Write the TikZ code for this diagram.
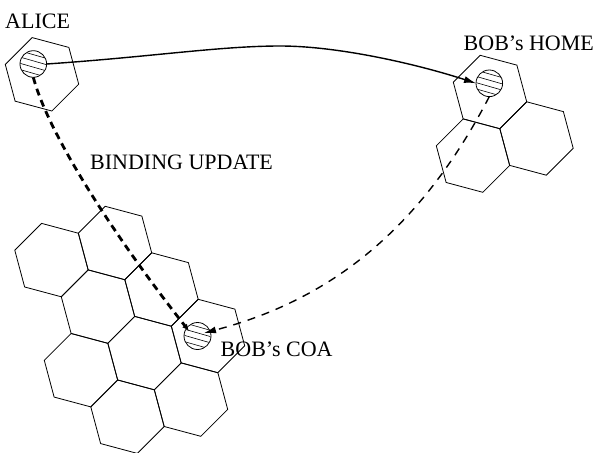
\documentclass[tikz,border=0pt]{standalone}
\usepackage{fontspec}
\setmainfont{Liberation Serif}
\usetikzlibrary{arrows.meta,calc}
\newcommand\hexcell[2]{\draw[hexline] (#1,#2) +(45:38pt) -- +(105:38pt) -- +(165:38pt) -- +(225:38pt) -- +(285:38pt) -- +(345:38pt) -- cycle;}
\begin{document}
\begin{tikzpicture}[x=1pt,y=-1pt,
  hexline/.style={line width=0.8pt},
  terminal/.style={circle, draw, line width=0.8pt, minimum size=26.6pt, inner sep=0pt, outer sep=0pt},
  hatchline/.style={line width=0.6pt},
  lbl/.style={anchor=base west, inner sep=0pt, font=\fontsize{22}{26}\selectfont},
  msg/.style={line width=1.4pt, -{Latex[length=12pt,width=7pt]}},
  bind/.style={line width=2.8pt, dash pattern=on 7pt off 5pt, -{Latex[length=7pt,width=6pt]}},
  fwd/.style={line width=1.4pt, dash pattern=on 8pt off 7pt, -{Latex[length=12pt,width=7pt]}},
]
\useasboundingbox (0,0) rectangle (596,452);
% Alice cell
\hexcell{42}{74.3}
% Bob's home cells
\hexcell{490}{92}
\hexcell{536.5}{138.5}
\hexcell{473}{155.6}
% foreign network cells
\hexcell{51.5}{260.1}
\hexcell{115}{243}
\hexcell{161.5}{289.5}
\hexcell{208}{336}
\hexcell{98}{306.6}
\hexcell{144.5}{353.1}
\hexcell{81}{370.2}
\hexcell{191}{399.6}
\hexcell{127.5}{416.7}
% terminals
\node[terminal] (alice) at (33.3,64) {};
\node[terminal] (bobhome) at (489.3,83.3) {};
\node[terminal, minimum size=27pt] (bobcoa) at (197.5,336) {};
\foreach \n in {alice,bobhome,bobcoa} {
  \begin{scope}
    \clip (\n.center) circle[radius=13pt];
    \foreach \d in {-9,-3,3,9}
      \draw[hatchline, rotate around={-16:(\n.center)}] ([yshift=\d pt,xshift=-20pt]\n.center) -- ([yshift=\d pt,xshift=20pt]\n.center);
  \end{scope}
}
\coordinate (coaA) at (189,331);
\coordinate (coaB) at (204,333);
\coordinate (msgtop) at (280,46);
% labels
\node[lbl] (lalice) at (5,28.3) {ALICE};
\node[lbl] (lhome) at (463.5,50) {BOB's HOME};
\node[lbl] (lbind) at (90,169.3) {BINDING UPDATE};
\node[lbl] (lcoa) at (220.5,356) {BOB's COA};
% connectors
\draw[msg] (alice.east) .. controls (150,57) and (220,46) .. (msgtop) .. controls (340,46) and (420,65) .. (bobhome.west);
\draw[bind] (alice.south) .. controls (50,140) and (125,250) .. (coaA);
\draw[fwd] (bobhome.south) .. controls (420,230) and (330,300) .. (coaB);
\end{tikzpicture}
\end{document}
